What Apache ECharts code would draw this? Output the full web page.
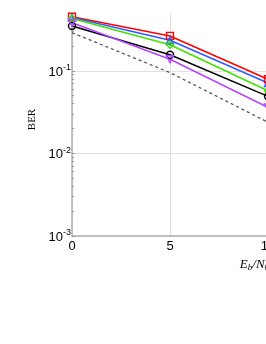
<!DOCTYPE html>
<html>
<head>
<meta charset="utf-8">
<script src="https://cdn.jsdelivr.net/npm/echarts@6/dist/echarts.min.js"></script>
<style>html,body{margin:0;padding:0;background:#fff;overflow:hidden;}#c{width:266px;height:344px;}</style>
</head>
<body>
<div id="c"></div>
<script>
const snr = [0, 5, 10];
const berRed = [0.45, 0.264, 0.079];
const berBlue = [0.44, 0.234, 0.071];
const berGreen = [0.43, 0.206, 0.057];
const berBlack = [0.348, 0.156, 0.049];
const berPurple = [0.38, 0.138, 0.036];
const berTheory = [0.289, 0.095, 0.0238];
const yMajorTicks = [0.001, 0.01, 0.1];
const yMinorTicks = [0.002,0.003,0.004,0.005,0.006,0.007,0.008,0.009,0.02,0.03,0.04,0.05,0.06,0.07,0.08,0.09,0.2,0.3,0.4];
const expLabels = {0.001: '-3', 0.01: '-2', 0.1: '-1'};

const chart = echarts.init(document.getElementById('c'));
function mk(name, data, color, symbol) {
  return {
    name, type: 'line', data: snr.map((x, i) => [x, data[i]]),
    symbol, symbolSize: 7, showSymbol: true,
    lineStyle: {color, width: 1.6},
    itemStyle: {color: 'transparent', borderColor: color, borderWidth: 1.4},
    z: 3
  };
}
chart.setOption({
  animation: false,
  grid: {left: 72, top: 13, width: 392, height: 223, outerBoundsMode: 'none', containLabel: false},
  xAxis: {
    type: 'value', min: 0, max: 20, interval: 5,
    axisLine: {lineStyle: {color: '#b0b0b0', width: 1.5}},
    axisTick: {show: false},
    axisLabel: {color: '#000', fontSize: 13, fontFamily: 'Liberation Sans', margin: 4},
    splitLine: {show: true, lineStyle: {color: '#e0e0e0', width: 1}},
    name: '{i|E}{sub|b}{i|/N}{sub|0}{r| (dB)}',
    nameLocation: 'middle', nameGap: 19,
    nameTextStyle: {
      rich: {
        i: {fontFamily: 'Liberation Serif', fontStyle: 'italic', fontSize: 13, color: '#000'},
        sub: {fontFamily: 'Liberation Serif', fontStyle: 'italic', fontSize: 9, color: '#000', padding: [6, 0, 0, 0]},
        r: {fontFamily: 'Liberation Serif', fontSize: 13, color: '#000'}
      }
    }
  },
  yAxis: [{
    type: 'log', logBase: 10, min: 0.001, max: 0.5,
    axisLine: {show: true, lineStyle: {color: '#b0b0b0', width: 1.5}},
    axisTick: {show: true, inside: true, length: 3, customValues: yMajorTicks, lineStyle: {color: '#999'}},
    axisLabel: {
      customValues: yMajorTicks, margin: 1,
      formatter: v => '{b|10}{s|' + (expLabels[+v.toPrecision(3)] || '') + '}',
      rich: {
        b: {fontSize: 13, fontFamily: 'Liberation Sans', color: '#000', padding: [3, 0, 0, 0]},
        s: {fontSize: 9, fontFamily: 'Liberation Sans', color: '#000', padding: [0, 0, 6, 0]}
      }
    },
    splitLine: {show: true, lineStyle: {color: '#e0e0e0', width: 1}},
    name: 'BER', nameLocation: 'middle', nameGap: 26,
    nameTextStyle: {fontFamily: 'Liberation Serif', fontSize: 11, color: '#000', padding: [0, 0, 0, 10]}
  }, {
    type: 'log', logBase: 10, min: 0.001, max: 0.5, position: 'left',
    axisLine: {show: false},
    axisTick: {show: true, inside: true, length: 2, customValues: yMinorTicks, lineStyle: {color: '#999'}},
    axisLabel: {show: false},
    splitLine: {show: false}
  }],
  series: [
    {
      name: 'theory', type: 'line', data: snr.map((x, i) => [x, berTheory[i]]),
      symbol: 'none', lineStyle: {color: '#555', width: 1.3, type: [3, 3]}, z: 2
    },
    mk('red', berRed, '#ff0000', 'rect'),
    mk('blue', berBlue, '#2a5cff', 'triangle'),
    mk('green', berGreen, '#44e000', 'diamond'),
    mk('black', berBlack, '#000000', 'circle'),
    mk('purple', berPurple, '#b444ff', 'path://M0,0 L10,0 L5,9 Z')
  ]
});
</script>
</body>
</html>
